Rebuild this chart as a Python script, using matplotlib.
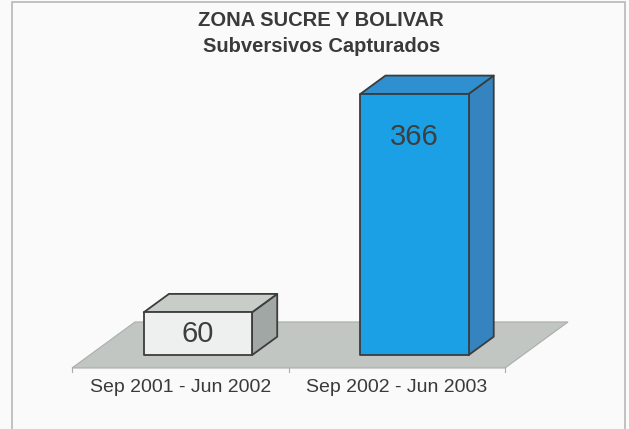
import numpy as np
import matplotlib.pyplot as plt
from matplotlib.patches import Polygon, Rectangle

plt.rcParams['font.family'] = ['Liberation Sans', 'DejaVu Sans']

title = 'ZONA SUCRE Y BOLIVAR'
subtitle = 'Subversivos Capturados'
periods = ['Sep 2001 - Jun 2002', 'Sep 2002 - Jun 2003']
captured = [60, 366]

front_colors = ['#eef0ef', '#1ba0e6']
top_colors = ['#c8cdca', '#2f8fcf']
side_colors = ['#a0a7a4', '#3583bf']
edge = '#3c3c3c'

# oblique projection: depth d in [0, 1] of the floor, shifted in data units
DX = 0.291
DV = 64.5
BAR_W = 0.5
BAR_D0, BAR_D1 = 0.28, 0.68


def proj(x, v, d):
    return (x + d * DX, v + d * DV)


fig = plt.figure(figsize=(6.29, 4.29), dpi=100)
fig.patch.set_facecolor('#fafafa')
fig.patches.append(Rectangle((12 / 629, -0.05), 613 / 629, 1.05 - 2 / 429,
                             transform=fig.transFigure, fill=False,
                             edgecolor='#bdbdbd', linewidth=1.3))

ax = fig.add_axes([0, 0, 1, 1])
ax.set_xlim(-0.8326, 2.0727)
ax.set_ylim(-85.5, 515.8)
ax.axis('off')

# floor
n = len(captured)
floor = [proj(-0.5, 0, 0), proj(n - 0.5, 0, 0), proj(n - 0.5, 0, 1), proj(-0.5, 0, 1)]
ax.add_patch(Polygon(floor, closed=True, facecolor='#c2c6c3', edgecolor='#a9adab',
                     linewidth=0.8, zorder=1))
for i in range(n + 1):
    x0, y0 = proj(i - 0.5, 0, 0)
    ax.plot([x0, x0], [y0, y0 - 6], color='#a9adab', linewidth=0.8, zorder=1)

for i, v in enumerate(captured):
    xl, xr = i - BAR_W / 2, i + BAR_W / 2
    front = [proj(xl, 0, BAR_D0), proj(xr, 0, BAR_D0), proj(xr, v, BAR_D0), proj(xl, v, BAR_D0)]
    side = [proj(xr, 0, BAR_D0), proj(xr, 0, BAR_D1), proj(xr, v, BAR_D1), proj(xr, v, BAR_D0)]
    top = [proj(xl, v, BAR_D0), proj(xr, v, BAR_D0), proj(xr, v, BAR_D1), proj(xl, v, BAR_D1)]
    for pts, c in [(side, side_colors[i]), (top, top_colors[i]), (front, front_colors[i])]:
        ax.add_patch(Polygon(pts, closed=True, facecolor=c, edgecolor=edge,
                             linewidth=1.3, joinstyle='round', zorder=3))
    lx, ly = proj(i, v - 0.5 * min(v, 120), BAR_D0)
    ax.text(lx, ly, str(v), ha='center', va='center', fontsize=21,
            color='#3e3e3e', zorder=4)

for i, p in enumerate(periods):
    ax.text(i, -28, p, ha='center', va='center', fontsize=14, color='#3a3a3a')

fig.text(321 / 629, 1 - 20 / 429, title, ha='center', va='center',
         fontsize=14.5, fontweight='bold', color='#3a3a3a')
fig.text(322 / 629, 1 - 47 / 429, subtitle, ha='center', va='center',
         fontsize=14.5, fontweight='bold', color='#3a3a3a')

fig.savefig('out.png', dpi=100, facecolor=fig.get_facecolor())
